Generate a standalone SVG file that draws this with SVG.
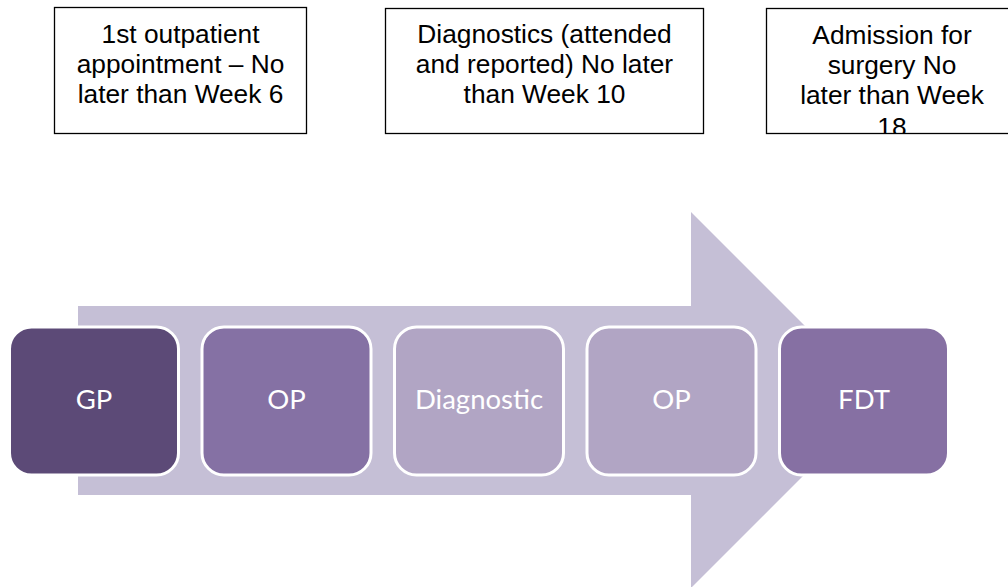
<svg xmlns="http://www.w3.org/2000/svg" width="1008" height="587" viewBox="0 0 1008 587">
  <style>
    .note { fill: #ffffff; stroke: #000000; stroke-width: 1.3; }
    .ntext { font-family: "Liberation Sans", Arial, sans-serif; font-size: 26.3px; fill: #000000; text-anchor: middle; }
    .step { stroke: #ffffff; stroke-width: 3; }
    .stext { font-family: Lato, "Open Sans", sans-serif; font-size: 27.5px; fill: #ffffff; text-anchor: middle; }
  </style>
  <defs>
    <clipPath id="clip3"><rect x="766" y="8" width="250" height="126"/></clipPath>
  </defs>
  <rect width="1008" height="587" fill="#ffffff"/>

  <g id="connectors">
    <path d="M78,306 H691 V212 L879,400 L691,588 V495 H78 Z" fill="#c5bfd6"/>
  </g>

  <g id="note1">
    <rect class="note" x="54.5" y="7.5" width="252" height="126"/>
    <text class="ntext" x="180.5" y="43">1st outpatient</text>
    <text class="ntext" x="180.5" y="73">appointment – No</text>
    <text class="ntext" x="180.5" y="103">later than Week 6</text>
  </g>

  <g id="note2">
    <rect class="note" x="385.5" y="8.5" width="318" height="125"/>
    <text class="ntext" x="544.5" y="43">Diagnostics (attended</text>
    <text class="ntext" x="544.5" y="73">and reported) No later</text>
    <text class="ntext" x="544.5" y="103">than Week 10</text>
  </g>

  <g id="note3">
    <rect class="note" x="766.5" y="8.5" width="250" height="125"/>
    <g clip-path="url(#clip3)">
      <text class="ntext" x="892" y="44">Admission for</text>
      <text class="ntext" x="892" y="74">surgery No</text>
      <text class="ntext" x="892" y="104">later than Week</text>
      <text class="ntext" x="892" y="136">18</text>
    </g>
  </g>

  <g id="gp">
    <rect class="step" x="9.5" y="327" width="169" height="148" rx="22" fill="#5c4a77"/>
    <text class="stext" x="94" y="409">GP</text>
  </g>
  <g id="op1">
    <rect class="step" x="202" y="327" width="169" height="148" rx="22" fill="#8571a4"/>
    <text class="stext" x="286.5" y="409">OP</text>
  </g>
  <g id="diagnostic">
    <rect class="step" x="394.5" y="327" width="169" height="148" rx="22" fill="#b1a5c4"/>
    <text class="stext" x="479" y="409">Diagnostic</text>
  </g>
  <g id="op2">
    <rect class="step" x="587" y="327" width="169" height="148" rx="22" fill="#b1a5c4"/>
    <text class="stext" x="671.5" y="409">OP</text>
  </g>
  <g id="fdt">
    <rect class="step" x="779.5" y="327" width="169" height="148" rx="22" fill="#8670a3"/>
    <text class="stext" x="864" y="409">FDT</text>
  </g>
</svg>
